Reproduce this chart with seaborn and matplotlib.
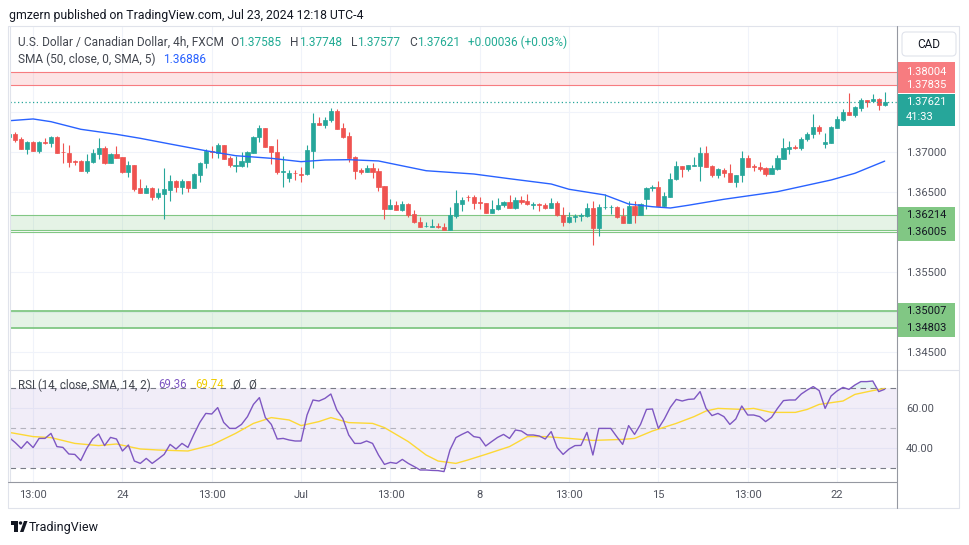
import numpy as np
import pandas as pd
import seaborn as sns
import matplotlib.pyplot as plt
from matplotlib.patches import Rectangle, FancyBboxPatch, Polygon, Circle
from matplotlib.lines import Line2D
from matplotlib.transforms import Affine2D, blended_transform_factory

# USD/CAD 4h candles (oldest first)
opens = [1.37192, 1.37225, 1.37163, 1.37042, 1.37125, 1.37017, 1.37129, 1.37117, 1.37188, 1.37000,
         1.36988, 1.36892, 1.36888, 1.36767, 1.36879, 1.36979, 1.37050, 1.36867, 1.36975, 1.36938,
         1.36750, 1.36838, 1.36550, 1.36492, 1.36550, 1.36442, 1.36479, 1.36529, 1.36642, 1.36563,
         1.36638, 1.36554, 1.36717, 1.36863, 1.37008, 1.36983, 1.37088, 1.36925, 1.36829, 1.36829,
         1.36879, 1.36992, 1.37188, 1.37300, 1.37075, 1.37000, 1.36746, 1.36679, 1.36742, 1.36725,
         1.36721, 1.37017, 1.37363, 1.37342, 1.37396, 1.37517, 1.37296, 1.37200, 1.36938, 1.36775,
         1.36754, 1.36796, 1.36763, 1.36575, 1.36292, 1.36338, 1.36279, 1.36350, 1.36225, 1.36125,
         1.36071, 1.36067, 1.36079, 1.36063, 1.36029, 1.36200, 1.36350, 1.36442, 1.36438, 1.36375,
         1.36363, 1.36242, 1.36283, 1.36333, 1.36375, 1.36304, 1.36400, 1.36388, 1.36342, 1.36350,
         1.36338, 1.36304, 1.36363, 1.36208, 1.36129, 1.36183, 1.36204, 1.36204, 1.36300, 1.36054,
         1.36308, 1.36308, 1.36313, 1.36204, 1.36117, 1.36325, 1.36213, 1.36413, 1.36554, 1.36558,
         1.36329, 1.36442, 1.36658, 1.36825, 1.36792, 1.36829, 1.36829, 1.36992, 1.36825, 1.36717,
         1.36779, 1.36738, 1.36629, 1.36708, 1.36925, 1.36821, 1.36808, 1.36800, 1.36729, 1.36792,
         1.36917, 1.37042, 1.37067, 1.37050, 1.37158, 1.37225, 1.37313, 1.37096, 1.37117, 1.37304,
         1.37404, 1.37500, 1.37467, 1.37554, 1.37650, 1.37633, 1.37663, 1.37585]
highs = [1.37233, 1.37246, 1.37188, 1.37138, 1.37133, 1.37138, 1.37171, 1.37200, 1.37200, 1.37117,
         1.37088, 1.36900, 1.36900, 1.36975, 1.37033, 1.37175, 1.37075, 1.36983, 1.37075, 1.36942,
         1.36888, 1.36842, 1.36667, 1.36588, 1.36563, 1.36550, 1.36800, 1.36713, 1.36650, 1.36658,
         1.36642, 1.36733, 1.36871, 1.37033, 1.37075, 1.37117, 1.37092, 1.36954, 1.36954, 1.37000,
         1.37013, 1.37200, 1.37342, 1.37304, 1.37079, 1.37163, 1.36954, 1.36775, 1.36775, 1.36808,
         1.37088, 1.37483, 1.37433, 1.37433, 1.37550, 1.37538, 1.37358, 1.37254, 1.36950, 1.36796,
         1.36842, 1.36867, 1.36796, 1.36579, 1.36417, 1.36383, 1.36388, 1.36358, 1.36275, 1.36192,
         1.36125, 1.36163, 1.36108, 1.36108, 1.36317, 1.36525, 1.36442, 1.36467, 1.36463, 1.36433,
         1.36367, 1.36400, 1.36429, 1.36388, 1.36458, 1.36442, 1.36450, 1.36475, 1.36379, 1.36358,
         1.36358, 1.36425, 1.36383, 1.36317, 1.36250, 1.36221, 1.36242, 1.36358, 1.36388, 1.36350,
         1.36471, 1.36342, 1.36325, 1.36296, 1.36388, 1.36388, 1.36367, 1.36567, 1.36588, 1.36638,
         1.36500, 1.36733, 1.36888, 1.36829, 1.36842, 1.36942, 1.37067, 1.37079, 1.36842, 1.36800,
         1.36804, 1.36850, 1.36713, 1.37017, 1.36958, 1.36854, 1.36875, 1.36808, 1.36833, 1.36967,
         1.37171, 1.37133, 1.37092, 1.37183, 1.37250, 1.37479, 1.37333, 1.37242, 1.37325, 1.37450,
         1.37538, 1.37738, 1.37575, 1.37675, 1.37654, 1.37729, 1.37671, 1.37748]
lows = [1.37183, 1.37129, 1.37033, 1.36979, 1.37008, 1.36992, 1.37100, 1.37058, 1.36988, 1.36867,
        1.36817, 1.36838, 1.36763, 1.36742, 1.36867, 1.36917, 1.36854, 1.36858, 1.36921, 1.36742,
        1.36692, 1.36517, 1.36488, 1.36488, 1.36404, 1.36408, 1.36167, 1.36392, 1.36496, 1.36479,
        1.36504, 1.36550, 1.36629, 1.36796, 1.36921, 1.36925, 1.36913, 1.36817, 1.36754, 1.36817,
        1.36808, 1.36988, 1.37129, 1.37063, 1.36850, 1.36725, 1.36558, 1.36629, 1.36650, 1.36629,
        1.36717, 1.36804, 1.37338, 1.37296, 1.37375, 1.37283, 1.37171, 1.36879, 1.36667, 1.36721,
        1.36750, 1.36679, 1.36517, 1.36167, 1.36288, 1.36275, 1.36263, 1.36192, 1.36117, 1.36063,
        1.36063, 1.36058, 1.36054, 1.36021, 1.36025, 1.36179, 1.36267, 1.36383, 1.36283, 1.36283,
        1.36238, 1.36238, 1.36275, 1.36317, 1.36300, 1.36283, 1.36350, 1.36342, 1.36283, 1.36267,
        1.36292, 1.36300, 1.36204, 1.36079, 1.36117, 1.36129, 1.36142, 1.36183, 1.35842, 1.35954,
        1.36292, 1.36225, 1.36179, 1.36113, 1.36113, 1.36117, 1.36208, 1.36283, 1.36508, 1.36325,
        1.36317, 1.36433, 1.36654, 1.36692, 1.36767, 1.36825, 1.36642, 1.36813, 1.36692, 1.36675,
        1.36692, 1.36625, 1.36567, 1.36629, 1.36813, 1.36767, 1.36767, 1.36704, 1.36725, 1.36775,
        1.36913, 1.36975, 1.37033, 1.37025, 1.37142, 1.37171, 1.37225, 1.37054, 1.37113, 1.37296,
        1.37392, 1.37463, 1.37442, 1.37517, 1.37567, 1.37625, 1.37529, 1.37577]
closes = [1.37225, 1.37154, 1.37042, 1.37125, 1.37017, 1.37125, 1.37117, 1.37188, 1.36992, 1.36996,
          1.36879, 1.36879, 1.36767, 1.36888, 1.36983, 1.37050, 1.36867, 1.36975, 1.36925, 1.36750,
          1.36838, 1.36538, 1.36492, 1.36550, 1.36442, 1.36488, 1.36538, 1.36642, 1.36563, 1.36638,
          1.36554, 1.36725, 1.36863, 1.37008, 1.36996, 1.37088, 1.36917, 1.36833, 1.36838, 1.36888,
          1.37000, 1.37188, 1.37300, 1.37067, 1.36996, 1.36746, 1.36763, 1.36733, 1.36733, 1.36717,
          1.37025, 1.37363, 1.37342, 1.37400, 1.37517, 1.37288, 1.37192, 1.36929, 1.36767, 1.36754,
          1.36796, 1.36754, 1.36567, 1.36292, 1.36338, 1.36279, 1.36350, 1.36217, 1.36121, 1.36067,
          1.36075, 1.36075, 1.36058, 1.36029, 1.36208, 1.36358, 1.36400, 1.36433, 1.36367, 1.36367,
          1.36242, 1.36288, 1.36338, 1.36375, 1.36304, 1.36400, 1.36379, 1.36346, 1.36350, 1.36342,
          1.36304, 1.36363, 1.36208, 1.36129, 1.36188, 1.36204, 1.36217, 1.36300, 1.36054, 1.36313,
          1.36317, 1.36317, 1.36192, 1.36117, 1.36325, 1.36213, 1.36350, 1.36550, 1.36567, 1.36329,
          1.36450, 1.36663, 1.36825, 1.36792, 1.36838, 1.36833, 1.36992, 1.36817, 1.36717, 1.36783,
          1.36733, 1.36629, 1.36708, 1.36925, 1.36817, 1.36817, 1.36792, 1.36729, 1.36800, 1.36925,
          1.37054, 1.37058, 1.37054, 1.37163, 1.37225, 1.37313, 1.37267, 1.37125, 1.37313, 1.37413,
          1.37500, 1.37467, 1.37558, 1.37650, 1.37629, 1.37663, 1.37585, 1.37621]

# SMA(50) read at a handful of candles
sma_idx = [0, 4, 7, 12, 18, 22, 27, 33, 38, 44, 49, 53, 57, 62, 70, 78, 84, 91, 94, 100,
           104, 108, 111, 114, 120, 129, 138, 142, 147]
sma_val = [1.37391, 1.37413, 1.37379, 1.37284, 1.37221, 1.37171, 1.37100, 1.37016, 1.36954, 1.36921,
           1.36879, 1.36900, 1.36904, 1.36888, 1.36766, 1.36725, 1.36666, 1.36600, 1.36534, 1.36463,
           1.36350, 1.36316, 1.36300, 1.36334, 1.36409, 1.36504, 1.36650, 1.36734, 1.36886]

# RSI(14), one value per candle
rsi = [45.2, 42.7, 39.8, 43.2, 40.2, 44.8, 44.8, 47.3, 40.7, 40.3,
       37.0, 36.8, 33.7, 39.8, 44.5, 47.0, 41.2, 45.3, 44.5, 38.5,
       41.5, 33.5, 32.3, 34.8, 32.3, 34.5, 36.8, 41.8, 39.5, 42.3,
       40.3, 46.8, 52.8, 57.3, 57.0, 60.2, 52.8, 49.8, 49.8, 51.8,
       55.7, 61.8, 65.2, 55.2, 51.8, 44.5, 44.8, 44.0, 43.5, 43.5,
       56.5, 64.0, 63.5, 64.8, 67.0, 59.0, 54.8, 46.5, 42.3, 42.3,
       43.5, 42.3, 36.5, 31.8, 32.8, 32.3, 34.3, 32.3, 30.7, 29.0,
       29.0, 28.8, 28.7, 28.2, 39.0, 45.2, 46.8, 48.2, 45.7, 45.2,
       41.0, 43.2, 45.3, 46.8, 44.8, 49.0, 48.5, 46.5, 46.5, 46.0,
       44.5, 48.2, 40.2, 36.8, 39.5, 41.2, 41.3, 47.8, 36.5, 49.8,
       49.8, 49.8, 45.7, 41.8, 51.2, 46.8, 51.8, 59.3, 59.5, 49.8,
       54.5, 60.3, 64.3, 63.5, 64.3, 64.5, 68.2, 59.8, 56.2, 57.3,
       55.7, 51.8, 54.5, 61.0, 56.5, 56.5, 55.7, 53.2, 55.3, 59.8,
       63.7, 64.0, 64.0, 67.0, 69.0, 70.7, 68.7, 59.8, 66.0, 68.5,
       70.3, 69.3, 71.5, 73.2, 73.2, 73.5, 68.2, 69.36]

# RSI smoothing line (SMA 14) read at a handful of candles
rsi_ma_idx = [0, 4, 7, 11, 15, 18, 22, 25, 30, 34, 38, 41, 44, 47, 49, 52, 54, 57, 61, 63,
              67, 70, 72, 75, 77, 80, 84, 87, 90, 94, 98, 103, 105, 108, 112, 115, 117, 119,
              123, 125, 128, 132, 134, 136, 140, 142, 145, 147]
rsi_ma_val = [47.8, 45.7, 45.2, 42.3, 41.2, 42.0, 39.5, 39.0, 38.5, 41.5, 47.3, 52.3, 55.2, 54.0,
              51.2, 53.2, 55.2, 52.7, 52.3, 50.2, 43.2, 36.5, 33.5, 32.3, 34.0, 36.8, 40.7, 45.7,
              45.7, 44.8, 43.8, 44.3, 44.8, 48.5, 52.3, 55.7, 58.5, 59.8, 59.3, 59.8, 57.8, 57.8,
              59.3, 61.8, 63.5, 66.8, 68.7, 69.74]

tick_idx = [4, 19, 34, 49, 64, 79, 94, 109, 124, 139]
tick_text = ['13:00', '24', '13:00', 'Jul', '13:00', '8', '13:00', '15', '13:00', '22']
price_ticks = [1.345, 1.350, 1.355, 1.360, 1.365, 1.370, 1.375, 1.380]
price_tick_text = ['1.34500', '', '1.35500', '', '1.36500', '1.37000', '', '']

# drawn levels
resist_zone = [1.37835, 1.38004]
support_zone = [1.36027, 1.36214]
support_line = 1.36005
low_zone = [1.34803, 1.35007]

UP, DN = '#26a69a', '#ef5350'
GRID = '#f0f3fa'
TXT = '#50535e'

sns.set_style('white')
plt.rcParams['font.family'] = ['Roboto', 'DejaVu Sans']

W, H = 970, 545
fig = plt.figure(figsize=(W / 100, H / 100), dpi=100)
fig.patch.set_facecolor('white')
px = Affine2D().scale(1 / W, -1 / H).translate(0, 1) + fig.transFigure

ax = fig.add_axes([10 / W, 1 - 370 / H, 887 / W, 343 / H])
ar = fig.add_axes([10 / W, 1 - 482 / H, 887 / W, 112 / H], sharex=ax)

o, h, l, c = (np.array(v) for v in (opens, highs, lows, closes))
idx = np.arange(len(o))
cols = np.where(c >= o, UP, DN)

# price pane
ax.axhspan(*resist_zone, color='#f77c80', alpha=0.2, lw=0, zorder=1)
for v in resist_zone:
    ax.axhline(v, color='#f77c80', lw=0.8, zorder=2)
ax.axhspan(*support_zone, color='#81c784', alpha=0.2, lw=0, zorder=1)
for v in support_zone + [support_line]:
    ax.axhline(v, color='#81c784', lw=0.8, zorder=2)
ax.axhspan(*low_zone, color='#81c784', alpha=0.2, lw=0, zorder=1)
for v in low_zone:
    ax.axhline(v, color='#81c784', lw=1.3, zorder=2)

ax.vlines(idx, l, h, colors=cols, lw=0.8, zorder=3)
ax.bar(idx, np.abs(c - o), bottom=np.minimum(o, c), width=0.7, color=cols,
       edgecolor=cols, lw=0.5, zorder=4)
sns.lineplot(x=sma_idx, y=sma_val, ax=ax, color='#2962ff', lw=1.0, zorder=5)
ax.axhline(c[-1], color=UP, lw=0.9, ls=(0, (1, 2)), zorder=5)

ax.set_xlim(0.12, 149.07)
ax.set_ylim(1.34275, 1.385625)
ax.yaxis.tick_right()
ax.set_yticks(price_ticks, price_tick_text)
ax.tick_params(axis='y', length=0, pad=6.5, labelsize=8, labelcolor=TXT)
ax.tick_params(axis='x', length=0, labelbottom=False)
ax.grid(True, color=GRID, lw=0.8)
ax.set_axisbelow(True)
ax.set_xlabel('')
ax.set_ylabel('')

# RSI pane
ar.axhspan(30, 70, color='#7e57c2', alpha=0.1, lw=0, zorder=1)
ar.fill_between(idx, 70, rsi, where=np.array(rsi) > 70, interpolate=True,
                color='#26a69a', alpha=0.12, lw=0, zorder=2)
for v, a in [(70, 1), (50, 0.5), (30, 1)]:
    ar.axhline(v, color='#787b86', lw=0.8, ls=(0, (5, 4)), alpha=a, zorder=2)
sns.lineplot(x=idx, y=rsi, ax=ar, color='#7e57c2', lw=1.0, zorder=4)
sns.lineplot(x=rsi_ma_idx, y=rsi_ma_val, ax=ar, color='#fdd835', lw=1.0, zorder=3)
ar.set_ylim(23, 79)
ar.yaxis.tick_right()
ar.set_yticks([40, 60], ['40.00', '60.00'])
ar.set_xticks(tick_idx, tick_text)
ar.tick_params(axis='y', length=0, pad=6.5, labelsize=8, labelcolor=TXT)
ar.tick_params(axis='x', length=0, pad=6, labelsize=8, labelcolor=TXT)
ar.grid(True, color=GRID, lw=0.8)
ar.set_axisbelow(True)
ar.set_xlabel('')
ar.set_ylabel('')

for a in (ax, ar):
    for s in a.spines.values():
        s.set_visible(False)

# frame lines
for (x0, y0, x1, y1, col) in [(8, 26, 959, 26, '#e0e3eb'), (8, 508, 959, 508, '#e0e3eb'),
                              (8, 26, 8, 508, '#e0e3eb'), (959, 26, 959, 508, '#e0e3eb'),
                              (10, 26, 10, 482, '#e0e3eb'), (8, 370, 959, 370, '#e0e3eb'),
                              (8, 482, 897, 482, '#9598a1'), (897, 26, 897, 508, '#9598a1')]:
    fig.add_artist(Line2D([x0, x1], [y0, y1], transform=px, color=col, lw=0.8))

# right-axis price boxes
tr = blended_transform_factory(ax.transAxes, ax.transData)
bx0, bw = (898 - 10) / 887, 57 / 887
tx = (906 - 10) / 887


def price_box(vals, fc, tc, top_pad=0.001, bot_pad=0.0012):
    ax.add_patch(Rectangle((bx0, min(vals) - bot_pad), bw, max(vals) - min(vals) + top_pad + bot_pad,
                           transform=tr, fc=fc, ec='none', clip_on=False, zorder=10))
    for v in vals:
        ax.text(tx, v, f'{v:.5f}', transform=tr, color=tc, fontsize=8, va='center',
                ha='left', zorder=11, clip_on=False)


price_box(resist_zone, '#f77c80', 'white', top_pad=0.00125, bot_pad=0.001)
price_box(support_zone[1:] + [support_line], '#81c784', '#131722')
price_box(low_zone, '#81c784', '#131722')
price_box([c[-1]], UP, 'white', top_pad=0.001, bot_pad=0.00296)
ax.annotate('41:33', xy=(tx, c[-1]), xycoords=tr, xytext=(0, -15), textcoords='offset pixels',
            color='white', fontsize=8, va='center', ha='left', zorder=11, annotation_clip=False)

fig.add_artist(FancyBboxPatch((902, 32), 54, 24, boxstyle='round,pad=0,rounding_size=4',
                              transform=px, fc='white', ec='#e0e3eb', lw=0.8))
fig.text(929 / W, 1 - 44 / H, 'CAD', fontsize=8.5, color='#131722', ha='center', va='center')

# header texts
fig.text(9 / W, 1 - 15 / H, 'gmzern published on TradingView.com, Jul 23, 2024 12:18 UTC-4',
         fontsize=8.8, color='#131722', va='center')

renderer = fig.canvas.get_renderer()


def put_row(x, y, pieces, size=8.6):
    for s, col, gap in pieces:
        t = fig.text(x / W, 1 - y / H, s, color=col, fontsize=size, va='center', ha='left', zorder=20)
        x += t.get_window_extent(renderer=renderer).width + gap


TEAL = '#22ab94'
chg = c[-1] - o[-1]
put_row(18, 42.5, [('U.S. Dollar / Canadian Dollar, 4h, FXCM', '#42464f', 6),
                   ('O', '#42464f', 0), (f'{o[-1]:.5f}', TEAL, 9),
                   ('H', '#42464f', 0), (f'{h[-1]:.5f}', TEAL, 9),
                   ('L', '#42464f', 0), (f'{l[-1]:.5f}', TEAL, 9),
                   ('C', '#42464f', 0), (f'{c[-1]:.5f}', TEAL, 8),
                   (f'+{chg:.5f} (+{chg / o[-1] * 100:.2f}%)', TEAL, 0)])
put_row(18, 59.5, [('SMA (50, close, 0, SMA, 5)', '#42464f', 8), (f'{sma_val[-1]:.5f}', '#2962ff', 0)])
put_row(18, 385, [('RSI (14, close, SMA, 14, 2)', '#42464f', 8), (f'{rsi[-1]:.2f}', '#7e57c2', 8),
                  (f'{rsi_ma_val[-1]:.2f}', '#f0cc00', 8), ('Ø', '#42464f', 8), ('Ø', '#42464f', 0)],
        size=8.3)

# footer logo
fig.add_artist(Rectangle((11, 521), 7, 3.5, transform=px, fc='#131722', ec='none'))
fig.add_artist(Rectangle((14.5, 521), 3.5, 11, transform=px, fc='#131722', ec='none'))
fig.add_artist(Circle((20.5, 523), 1.7, transform=px, fc='#131722', ec='none'))
fig.add_artist(Polygon([(20, 532), (24, 521), (27.5, 521), (23.5, 532)], transform=px,
                       fc='#131722', ec='none'))
fig.text(29 / W, 1 - 527 / H, 'TradingView', fontsize=9, color='#131722', va='center')

fig.savefig('out.png', dpi=100, facecolor='white')
